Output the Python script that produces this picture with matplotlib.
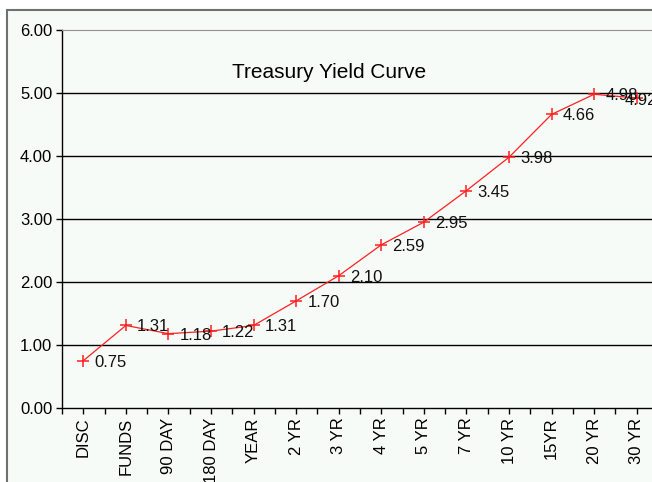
import matplotlib
matplotlib.use("Agg")
import matplotlib.pyplot as plt
from matplotlib.patches import Rectangle
import numpy as np

# Treasury yields by maturity
maturities = ["DISC", "FUNDS", "90 DAY", "180 DAY", "YEAR", "2 YR", "3 YR",
              "4 YR", "5 YR", "7 YR", "10 YR", "15YR", "20 YR", "30 YR"]
yields = [0.75, 1.31, 1.18, 1.22, 1.31, 1.70, 2.10,
          2.59, 2.95, 3.45, 3.98, 4.66, 4.98, 4.92]

plt.rcParams['font.family'] = ['Liberation Sans', 'DejaVu Sans']
bg = '#f6fbf8'

fig = plt.figure(figsize=(6.52, 4.82), dpi=100)
fig.patch.set_facecolor('white')

# outer chart frame (runs off the right and bottom edges)
frame = Rectangle((7 / 652, -0.05), 1.0, 472 / 482 + 0.05,
                  transform=fig.transFigure, facecolor=bg,
                  edgecolor='#707070', linewidth=1.5, zorder=-5)
fig.patches.append(frame)

ax = fig.add_axes([62 / 652, 74 / 482, 596 / 652, 378 / 482], zorder=2)
ax.set_facecolor(bg)

x = np.arange(len(maturities))
ax.plot(x, yields, color='#ff2020', linewidth=0.9, marker='+',
        markersize=9, markeredgewidth=1.1, zorder=3)
for i, (xi, yi) in enumerate(zip(x, yields)):
    # last label gets pulled back inside like the spreadsheet does
    off = (-9, -2) if i == len(x) - 1 else (8, -1)
    ax.annotate(f"{yi:.2f}", (xi, yi), xytext=off, textcoords='offset points',
                ha='left', va='center', fontsize=12, color='#111111', zorder=4)

ax.set_xlim(-0.5, len(maturities) - 0.5)
ax.set_ylim(0, 6)
ax.set_yticks(np.arange(0, 7, 1))
ax.set_yticklabels([f"{v:.2f}" for v in range(7)])
ax.set_xticks(x)
ax.set_xticklabels(maturities, rotation=90)
ax.set_xticks(np.arange(-0.5, len(maturities), 1), minor=True)
ax.tick_params(axis='both', which='both', direction='out', length=4,
               width=1, color='black', labelsize=12, pad=3)

for v in range(1, 6):
    ax.axhline(v, color='black', linewidth=1, zorder=1)

ax.spines['top'].set_color('#909090')
ax.spines['right'].set_visible(False)
for s in ['left', 'bottom']:
    ax.spines[s].set_color('black')
    ax.spines[s].set_linewidth(1)

ax.text(0.448, 0.887, "Treasury Yield Curve", transform=ax.transAxes,
        ha='center', va='center', fontsize=15, color='black')

fig.savefig("out.png", dpi=100, facecolor=fig.get_facecolor())
